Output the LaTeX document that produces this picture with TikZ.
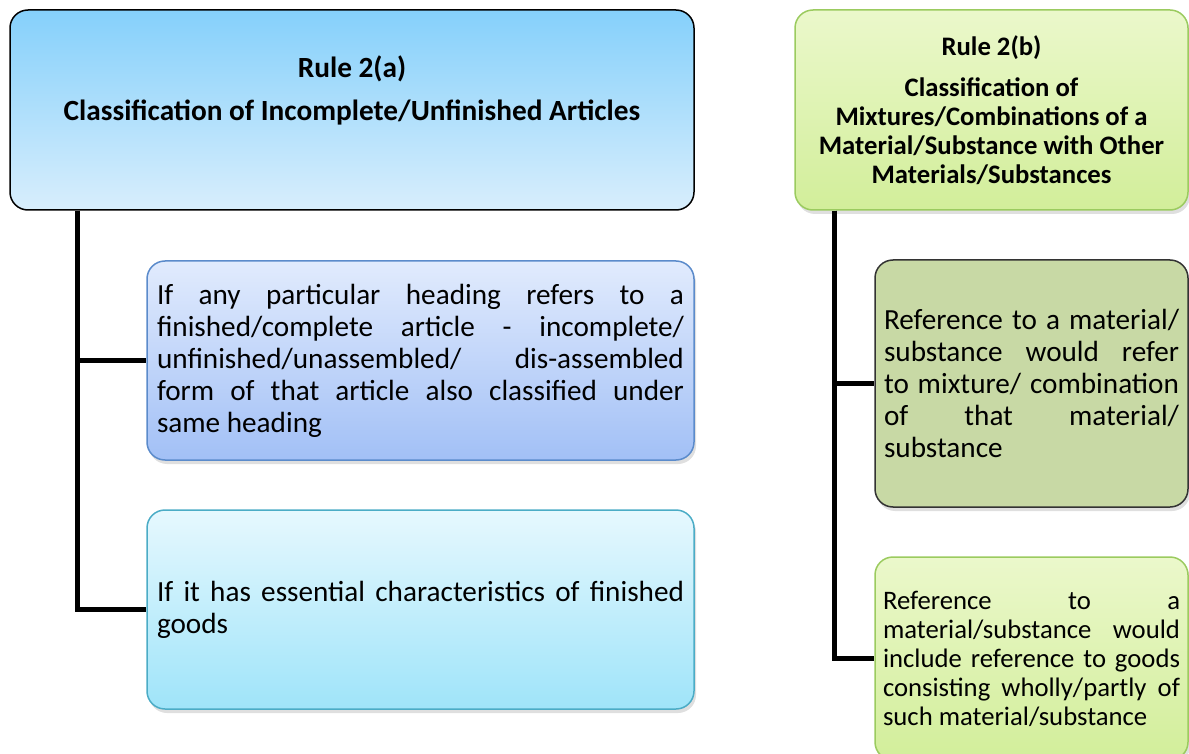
\documentclass[tikz,border=0pt]{standalone}
\usepackage{fontspec}
\setmainfont{Carlito}
\usetikzlibrary{shadows}
\hyphenpenalty=10000
\exhyphenpenalty=10000

\definecolor{skyTop}{HTML}{85D0FB}
\definecolor{skyBot}{HTML}{D8EEFC}
\definecolor{lavTop}{HTML}{E1EBFD}
\definecolor{lavBot}{HTML}{A2C0F6}
\definecolor{lavLine}{HTML}{5B8BCB}
\definecolor{aquaTop}{HTML}{E6F8FE}
\definecolor{aquaBot}{HTML}{9FE4F9}
\definecolor{aquaLine}{HTML}{4BACC6}
\definecolor{limeTop}{HTML}{EBF8CB}
\definecolor{limeBot}{HTML}{D2EE9A}
\definecolor{limeLine}{HTML}{9BCB5F}
\definecolor{oliveFill}{HTML}{C8D9A5}

\begin{document}
\begin{tikzpicture}[x=1pt, y=-1pt,
		box/.style={rounded corners=18pt, line width=1.5pt, inner sep=0pt},
		rulebox/.style={box, align=center, font=\fontsize{29.3}{35}\selectfont\bfseries},
		textbox/.style={box, align=justify, font=\fontsize{29.2}{32}\selectfont,
			drop shadow={opacity=0.25, shadow xshift=2pt, shadow yshift=-4pt}},
		trunk/.style={line width=4.5pt, black}]
			\useasboundingbox (0,0) rectangle (1189,754);
			\clip (0,0) rectangle (1189,754);
			
			\node[rulebox, draw=black, top color=skyTop, bottom color=skyBot,
				minimum width=684pt, minimum height=200pt] (ruleA) at (352,110)
				{Rule 2(a)\\[8pt]Classification of Incomplete/Unfinished Articles\\[-2pt]\strut};
			\node[textbox, draw=lavLine, top color=lavTop, bottom color=lavBot,
				minimum width=547pt, minimum height=199pt, text width=527pt] (incA) at (420.5,360.5)
				{If any particular heading refers to a\linebreak finished/complete article - incomplete/\linebreak unfinished/unassembled/ dis-assembled\linebreak form of that article also classified under\linebreak same heading};
			\node[textbox, draw=aquaLine, top color=aquaTop, bottom color=aquaBot,
				minimum width=547pt, minimum height=199pt, text width=527pt] (essA) at (420.5,609.5)
				{If it has essential characteristics of finished\linebreak goods};
			
			\node[rulebox, draw=limeLine, top color=limeTop, bottom color=limeBot,
				font=\fontsize{26.7}{29}\selectfont\bfseries,
				drop shadow={opacity=0.25, shadow xshift=2pt, shadow yshift=-4pt},
				minimum width=393pt, minimum height=200pt] (ruleB) at (991.5,110)
				{Rule 2(b)\\[12pt]Classification of\\Mixtures/Combinations of a\\Material/Substance with Other\\Materials/Substances};
			\node[textbox, draw=black!80, fill=oliveFill, drop shadow={opacity=0},
				minimum width=313pt, minimum height=247pt, text width=295pt] (mixB) at (1031.5,383.5)
				{Reference to a material/\linebreak substance would refer\linebreak to mixture/ combination\linebreak of that material/\linebreak substance};
			\node[textbox, draw=limeLine, top color=limeTop, bottom color=limeBot,
				font=\fontsize{26.7}{29}\selectfont,
				minimum width=313pt, minimum height=203pt, text width=297pt] (refB) at (1031.5,658.5)
				{Reference to a\linebreak material/substance would\linebreak include reference to goods\linebreak consisting wholly/partly of\linebreak such material/substance};
			
			\draw[trunk] ([xshift=68pt]ruleA.south west) |- (incA.west);
			\draw[trunk] ([xshift=68pt]ruleA.south west) |- (essA.west);
			\draw[trunk] ([xshift=40pt]ruleB.south west) |- (mixB.west);
			\draw[trunk] ([xshift=40pt]ruleB.south west) |- (refB.west);
		\end{tikzpicture}
\end{document}
